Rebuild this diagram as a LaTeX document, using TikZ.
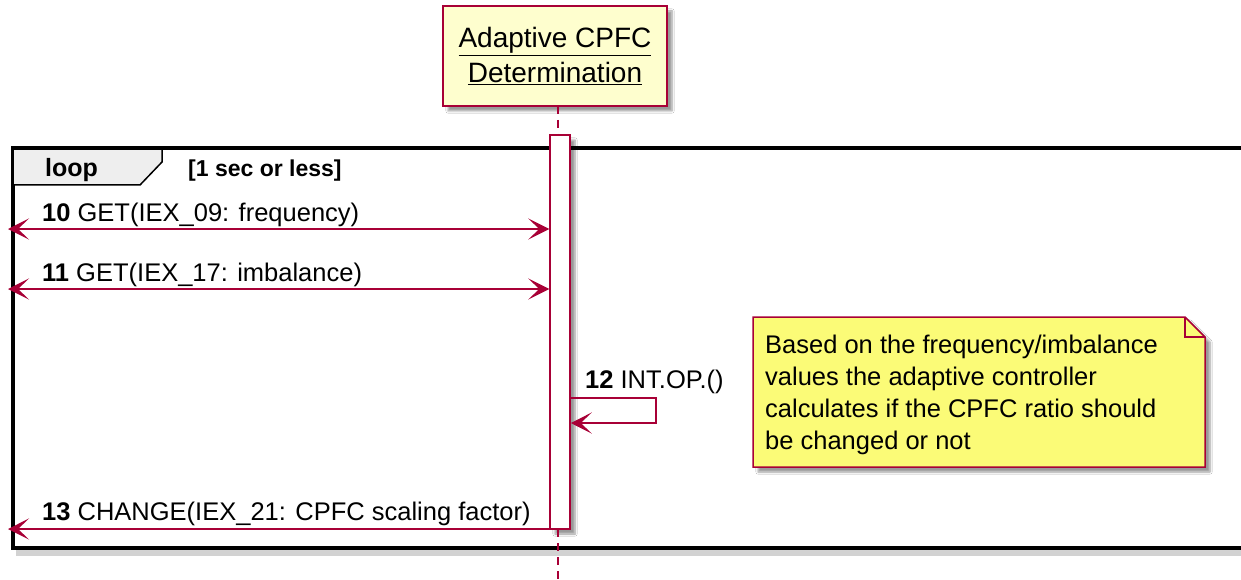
\documentclass[tikz,border=0pt]{standalone}
\usepackage{fontspec}
\setmainfont{Liberation Sans}
\usetikzlibrary{arrows.meta,shadows.blur}
\definecolor{pcrim}{HTML}{A80036}
\definecolor{phead}{HTML}{FEFECE}
\definecolor{pnote}{HTML}{FBFB77}
\definecolor{ptab}{HTML}{EEEEEE}
\tikzset{
  tip/.tip={Stealth[length=21pt,width=21pt,inset=11pt]},
  msgline/.style={draw=pcrim,line width=1.5pt},
  lifeline/.style={draw=pcrim,line width=1.5pt,dash pattern=on 8pt off 6pt},
  msgtext/.style={anchor=base west,inner sep=0pt,font=\fontsize{25.5}{30}\selectfont},
  shad/.style={blur shadow={shadow xshift=5pt,shadow yshift=-5pt,shadow blur steps=6,shadow opacity=40}},
}
\begin{document}
\begin{tikzpicture}[x=1pt,y=-1pt]
\useasboundingbox (0,0) rectangle (1241,580);
\clip (0,0) rectangle (1241,580);
\fill[white] (0,0) rectangle (1241,580);

% loop frame
\fill[black!35,opacity=0.5] (16,548) rectangle (1260,556);
\draw[line width=3.5pt] (1260,148) -- (13,148) -- (13,548) -- (1260,548);
\node[inner sep=0pt] (frame) at (636,348) {};
\filldraw[fill=ptab,draw=black,line width=1.5pt] (13,148) -- (162,148) -- (162,162) -- (140,185) -- (13,185) -- cycle;
\draw[line width=3.5pt] (13,148) -- (162,148);
\node[anchor=base west,inner sep=0pt,font=\fontsize{25}{30}\selectfont\bfseries] (looplbl) at (45,177) {loop};
\node[anchor=base west,inner sep=0pt,font=\fontsize{23}{27}\selectfont\bfseries] (guard) at (188,177) {[1 sec or less]};

% participant
\node[draw=pcrim,line width=2pt,fill=phead,minimum width=224pt,minimum height=100pt,inner sep=0pt,shad] (hd) at (555,56) {};
\node[anchor=base,inner sep=0pt,font=\fontsize{28}{33}\selectfont] (hd1) at (555,48) {\underline{Adaptive CPFC}};
\node[anchor=base,inner sep=0pt,font=\fontsize{28}{33}\selectfont] (hd2) at (555,83) {\underline{Determination}};

% lifeline
\coordinate (lifetop) at (558,106);
\coordinate (lifebot) at (558,580);
\node[draw=pcrim,line width=1.5pt,fill=white,minimum width=20pt,minimum height=394pt,inner sep=0pt,shad] (act) at (560,332) {};
\draw[lifeline] (lifetop) -- (558,135);
\draw[lifeline] (558,529) -- (lifebot);

% messages
\coordinate (L10) at (8,229);
\coordinate (L11) at (8,289);
\coordinate (L13) at (8,529);
\draw[msgline,{tip}-{tip}] (L10) -- (act.west |- L10);
\node[msgtext] (m10) at (42,221) {\textbf{10} GET(IEX\_09: frequency)};
\draw[msgline,{tip}-{tip}] (L11) -- (act.west |- L11);
\node[msgtext] (m11) at (42,281) {\textbf{11} GET(IEX\_17: imbalance)};

\coordinate (s1) at (656,398);
\coordinate (s2) at (656,423);
\draw[msgline,-{tip}] (act.east |- s1) -- (s1) -- (s2) -- (act.east |- s2);
\node[msgtext] (m12) at (585,388) {\textbf{12} INT.OP.()};

\draw[msgline,-{tip}] (act.west |- L13) -- (L13);
\node[msgtext] (m13) at (42,520) {\textbf{13} CHANGE(IEX\_21: CPFC scaling factor)};

% note
\filldraw[fill=pnote,draw=pcrim,line width=1.5pt,shad] (753,317) -- (1185,317) -- (1205,337) -- (1205,467) -- (753,467) -- cycle;
\draw[pcrim,line width=1.5pt] (1185,317) -- (1185,337) -- (1205,337);
\node[anchor=north west,inner sep=0pt,align=left,font=\fontsize{25.5}{32}\selectfont] (note) at (765,331) {\strut Based on the frequency/imbalance\\values the adaptive controller\\calculates if the CPFC ratio should\\be changed or not};
\end{tikzpicture}
\end{document}
